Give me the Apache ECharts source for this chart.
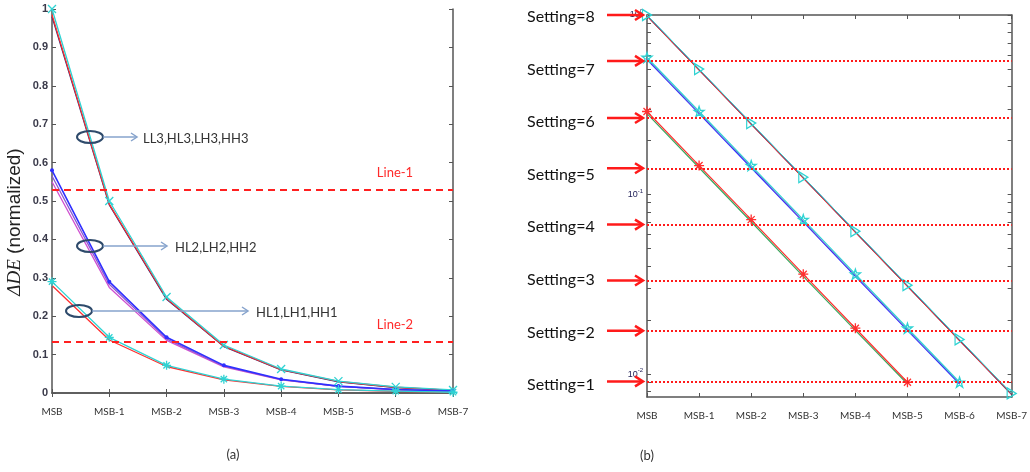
<!DOCTYPE html>
<html><head><meta charset="utf-8">
<script src="https://cdn.jsdelivr.net/npm/echarts@6/dist/echarts.min.js"></script>
<style>html,body{margin:0;padding:0;background:#fff}#c{width:1030px;height:472px}</style>
</head><body><div id="c"></div>
<script>
// ---------- data ----------
const categories = ['MSB','MSB-1','MSB-2','MSB-3','MSB-4','MSB-5','MSB-6','MSB-7'];
const aTicks = [0,0.1,0.2,0.3,0.4,0.5,0.6,0.7,0.8,0.9,1];
// panel (a): normalized Delta DE
const aG3Cyan    = [1.0, 0.5, 0.25, 0.125, 0.0625, 0.031, 0.016, 0.008];
const aG3Red     = [0.985, 0.492, 0.246, 0.122, 0.061, 0.03, 0.015, 0.007];
const aG3Navy    = [0.98, 0.49, 0.244, 0.121, 0.06, 0.029, 0.014, 0.007];
const aG2Blue    = [0.58, 0.29, 0.145, 0.072, 0.036, 0.018, 0.009, 0.005];
const aG2Purple  = [0.565, 0.283, 0.141, 0.07, 0.035, 0.017, 0.009, 0.004];
const aG2Magenta = [0.55, 0.275, 0.137, 0.068, 0.034, 0.017, 0.008, 0.004];
const aG1Cyan    = [0.29, 0.145, 0.072, 0.036, 0.018, 0.009, 0.005, 0.002];
const aG1Red     = [0.28, 0.138, 0.069, 0.034, 0.017, 0.008, 0.004, 0.002];
const aLineLevels = [0.53, 0.133];
const aLineNames = ['Line-1','Line-2'];
const aGroupNames = ['LL3,HL3,LH3,HH3','HL2,LH2,HH2','HL1,LH1,HH1'];
// panel (b): log scale
const bG3Cyan  = [1, 0.5, 0.25, 0.125, 0.0625, 0.03125, 0.0156, 0.0078];
const bG3Navy  = [0.99, 0.495, 0.247, 0.124, 0.0618, 0.0309, 0.0154, 0.0077];
const bG3Red   = [0.985, 0.492, 0.246, 0.123, 0.0615, 0.0307, 0.0153, 0.0077];
const bG2Cyan  = [0.58, 0.29, 0.145, 0.0725, 0.036, 0.018, 0.009];
const bG2Blue  = [0.565, 0.282, 0.141, 0.0705, 0.035, 0.0175, 0.0088];
const bG2Purple= [0.57, 0.285, 0.143, 0.071, 0.0355, 0.0177, 0.0089];
const bG1Red   = [0.29, 0.145, 0.0725, 0.036, 0.018, 0.009];
const bG1Green = [0.282, 0.141, 0.0705, 0.035, 0.0175, 0.0088];
const bMajorTicks = [0.01, 0.1, 1];
const bMinorTicks = [0.008,0.009,0.01,0.02,0.03,0.04,0.05,0.06,0.07,0.08,0.09,0.1,0.2,0.3,0.4,0.5,0.6,0.7,0.8,0.9,1];
const settingLevels = [0.0091, 0.0174, 0.0332, 0.068, 0.14, 0.267, 0.555, 1.0]; // Setting=1..8
const settingNames = ['Setting=1','Setting=2','Setting=3','Setting=4','Setting=5','Setting=6','Setting=7','Setting=8'];
const captions = ['(a)','(b)'];

// ---------- styles ----------
const CYAN='#2fd3d3', RED='#ff3030', NAVY='#2a2a78', BLUE='#2f2fff', PURPLE='#8a5ad0', MAGENTA='#d050d0', GREEN='#3aa860';
const SYM = {
  x: 'path://M0,0L10,10M10,0L0,10',
  ast: 'path://M5,0L5,10M0,5L10,5M1.5,1.5L8.5,8.5M8.5,1.5L1.5,8.5',
  star: 'path://M5,0L6.2,3.6L10,3.6L6.9,5.9L8.1,9.5L5,7.3L1.9,9.5L3.1,5.9L0,3.6L3.8,3.6Z',
  tri: 'path://M0,0L10,5L0,10Z'
};
function ln(name, data, color, xi, yi, opt) {
  opt = opt || {};
  const s = {
    name, type:'line', data, xAxisIndex:xi, yAxisIndex:yi,
    lineStyle:{color, width: opt.w || 1.3},
    symbol: opt.sym || 'none', symbolSize: opt.size || 8,
    showSymbol: !!opt.sym,
    itemStyle: opt.fill ? {color} : {color:'rgba(0,0,0,0)', borderColor:color, borderWidth:1.3},
    emphasis:{disabled:true}, z: opt.z || 2
  };
  return s;
}
const axisCol = '#555';
function xAx(grid, pos, labels) {
  return {type:'category', gridIndex:grid, position:pos, data:categories, boundaryGap:false,
    axisLine:{show:true, lineStyle:{color:axisCol, width:1.5}},
    axisTick:{show:true, inside:true, length:4, lineStyle:{color:axisCol}},
    axisLabel:{show:labels, margin:14, color:'#333', fontSize:10, fontFamily:'Lato'},
    splitLine:{show:false}};
}
function yAxA(pos, labels) {
  return {type:'value', gridIndex:0, position:pos, min:0, max:1, interval:0.1,
    axisLine:{show:true, lineStyle:{color:axisCol, width:1.5}},
    axisTick:{show:true, inside:true, length:4, lineStyle:{color:axisCol}},
    axisLabel:{show:labels, margin:4, color:'#3a3a4a', fontSize:11, fontWeight:'bold', fontFamily:'Liberation Sans'},
    splitLine:{show:false}};
}
function yAxB(pos, labels) {
  return {type:'log', logBase:10, gridIndex:1, position:pos, min:0.00745, max:1,
    axisLine:{show:true, lineStyle:{color:axisCol, width:1.5}},
    axisTick:{show:true, inside:true, length:4, lineStyle:{color:axisCol}, customValues:bMinorTicks},
    minorTick:{show:false},
    axisLabel:{show:labels, margin:4, customValues:bMajorTicks,
      formatter: v => '{b|10}{s|' + Math.round(Math.log10(v)) + '}',
      rich:{b:{fontSize:9, color:'#22225a', fontFamily:'Liberation Sans'},
            s:{fontSize:6, color:'#22225a', fontFamily:'Liberation Sans', padding:[0,0,7,0]}}},
    splitLine:{show:false}};
}

const chart = echarts.init(document.getElementById('c'), null, {renderer:'canvas', width:1030, height:472});
const option = {
  animation:false,
  backgroundColor:'#fff',
  grid:[{left:52, top:9, width:401, height:384}, {left:647, top:15, width:373, height:382}],
  xAxis:[xAx(0,'bottom',true), xAx(0,'top',false), xAx(1,'bottom',true), xAx(1,'top',false)],
  yAxis:[yAxA('left',true), yAxA('right',false), yAxB('left',true), yAxB('right',false)],
  series:[
    // panel (a)
    ln('HH3', aG3Navy, NAVY, 0, 0),
    ln('HL3', aG3Red, RED, 0, 0),
    ln('LL3', aG3Cyan, CYAN, 0, 0, {sym:SYM.x, size:8, z:3}),
    ln('HH2', aG2Magenta, MAGENTA, 0, 0),
    ln('LH2', aG2Purple, PURPLE, 0, 0),
    ln('HL2', aG2Blue, BLUE, 0, 0, {sym:'circle', size:4, fill:true, w:1.6, z:3}),
    ln('HH1', aG1Red, RED, 0, 0),
    Object.assign(ln('HL1', aG1Cyan, CYAN, 0, 0, {sym:SYM.ast, size:9, z:3}), {
      markLine:{silent:true, symbol:'none', precision:5, label:{show:false},
        lineStyle:{color:'#ff2020', width:2, type:[7,5]},
        data: aLineLevels.map(v => ({yAxis:v}))}
    }),
    // panel (b)
    ln('b-G3-navy', bG3Navy, NAVY, 2, 2),
    ln('b-G3-red', bG3Red, RED, 2, 2, {w:1}),
    ln('b-G3-cyan', bG3Cyan, CYAN, 2, 2, {sym:SYM.tri, size:[9,11], w:1, z:3}),
    ln('b-G2-blue', bG2Blue, BLUE, 2, 2, {w:1.2}),
    ln('b-G2-purple', bG2Purple, PURPLE, 2, 2, {w:1}),
    ln('b-G2-cyan', bG2Cyan, CYAN, 2, 2, {sym:SYM.star, size:10, w:1.2, z:3}),
    ln('b-G1-green', bG1Green, GREEN, 2, 2, {w:1.2}),
    Object.assign(ln('b-G1-red', bG1Red, RED, 2, 2, {sym:SYM.ast, size:10, w:1.2, z:3}), {
      markLine:{silent:true, symbol:'none', precision:6, label:{show:false},
        lineStyle:{color:'#ff1a1a', width:2, type:[2,2]},
        data: settingLevels.filter(v => v < 1).map(v => ({yAxis:v}))}
    })
  ]
};
chart.setOption(option);

// ---------- annotations positioned through the axes ----------
const g = [];
const py = (ai, v) => chart.convertToPixel({yAxisIndex:ai}, v);
const px = (ai, v) => chart.convertToPixel({xAxisIndex:ai}, v);
// Line-1 / Line-2 labels
aLineLevels.forEach((v, i) => {
  g.push({type:'text', x:395, y:py(0, v) - 17, style:{text:aLineNames[i], fill:'#ff2a2a', font:'13px Lato', align:'center', verticalAlign:'middle'}});
});
// group ellipses + arrows
const ann = [
  {cx:90, cy:137, ax2:137, tx:143},
  {cx:90, cy:246, ax2:167, tx:175},
  {cx:79, cy:311, ax2:248, tx:256}
];
ann.forEach((a, i) => {
  g.push({type:'ellipse', shape:{cx:a.cx, cy:a.cy, rx:13, ry:6}, style:{fill:'none', stroke:'#2e4a6b', lineWidth:2}, z:10});
  g.push({type:'line', shape:{x1:a.cx+13, y1:a.cy, x2:a.ax2, y2:a.cy}, style:{stroke:'#86a3cc', lineWidth:1.5}, z:10});
  g.push({type:'polyline', shape:{points:[[a.ax2-6, a.cy-4],[a.ax2, a.cy],[a.ax2-6, a.cy+4]]}, style:{stroke:'#86a3cc', lineWidth:1.5, fill:'none'}, z:10});
  g.push({type:'text', x:a.tx, y:a.cy+2, style:{text:aGroupNames[i], fill:'#333', font:'13px Lato', verticalAlign:'middle'}, z:10});
});
// y axis title for (a)
g.push({type:'text', x:15, y:222, rotation:Math.PI/2,
  style:{text:'{d|ΔDE} (normalized)', fill:'#222', font:'19px "Liberation Sans"', align:'center', verticalAlign:'middle',
    rich:{d:{fontFamily:'"Liberation Serif"', fontStyle:'italic', fontSize:19, fill:'#222'}}}});
// settings arrows for (b)
const tipX = px(2, 0) - 4;
settingLevels.forEach((v, i) => {
  const y = py(2, v);
  g.push({type:'line', shape:{x1:607, y1:y, x2:tipX-1, y2:y}, style:{stroke:'#ff1a1a', lineWidth:2.5}, z:10});
  g.push({type:'polyline', shape:{points:[[tipX-8, y-5],[tipX, y],[tipX-8, y+5]]}, style:{stroke:'#ff1a1a', lineWidth:2.5, fill:'none'}, z:10});
  const ly = 385 - i * 52.6;
  g.push({type:'text', x:527, y:ly, style:{text:settingNames[i], fill:'#111', font:'16px Lato', verticalAlign:'middle'}, z:10});
});
// captions
g.push({type:'text', x:233, y:455, style:{text:captions[0], fill:'#333', font:'13px Lato', align:'center', verticalAlign:'middle'}});
g.push({type:'text', x:647, y:456, style:{text:captions[1], fill:'#333', font:'13px Lato', align:'center', verticalAlign:'middle'}});
chart.setOption({graphic:g});
</script></body></html>
